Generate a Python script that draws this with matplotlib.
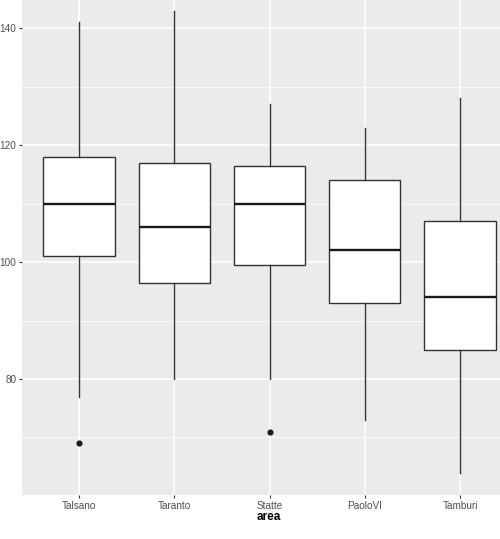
import matplotlib
matplotlib.use('Agg')
import matplotlib.pyplot as plt

# five-number summaries
areas = ['Talsano', 'Taranto', 'Statte', 'PaoloVI', 'Tamburi']
whisker_low = [77, 80, 80, 73, 64]
q1 = [101, 96.5, 99.5, 93, 85]
median = [110, 106, 110, 102, 94]
q3 = [118, 117, 116.5, 114, 107]
whisker_high = [141, 143, 127, 123, 128]
outliers = [[69], [], [71], [], []]

plt.rcParams['font.family'] = ['Liberation Sans', 'DejaVu Sans']

fig = plt.figure(figsize=(5.0, 5.39), dpi=100)
ax = fig.add_axes([0.044, 0.0816, 0.956, 0.9184])
ax.set_facecolor('#EBEBEB')

stats = []
for i, name in enumerate(areas):
    stats.append({
        'label': name,
        'whislo': whisker_low[i],
        'q1': q1[i],
        'med': median[i],
        'q3': q3[i],
        'whishi': whisker_high[i],
        'fliers': outliers[i],
    })

positions = list(range(1, len(areas) + 1))
ax.bxp(stats, positions=positions, widths=0.75, patch_artist=True,
       showcaps=False,
       boxprops=dict(facecolor='white', edgecolor='#333333', linewidth=1.0),
       whiskerprops=dict(color='#333333', linewidth=1.0),
       medianprops=dict(color='#1a1a1a', linewidth=1.7),
       flierprops=dict(marker='o', markerfacecolor='#1a1a1a', markeredgecolor='#1a1a1a',
                       markersize=3.4, linestyle='none'),
       zorder=3)

ax.set_xlim(0.4, 5.42)
ax.set_ylim(60.15, 144.84)

# grid like ggplot
ax.set_yticks([80, 100, 120, 140])
ax.set_yticks([70, 90, 110, 130], minor=True)
ax.grid(True, which='major', color='white', linewidth=1.1, zorder=0)
ax.grid(True, which='minor', axis='y', color='white', linewidth=0.55, zorder=0)
ax.set_axisbelow(True)

ax.set_xticks(positions)
ax.set_xticklabels(areas)
ax.tick_params(axis='both', which='major', colors='#333333', labelcolor='#4D4D4D',
               labelsize=7.2, length=2.5, width=0.8, pad=1.5)
ax.tick_params(which='minor', length=0)

for s in ax.spines.values():
    s.set_visible(False)

ax.set_xlabel('area', fontsize=8.5, fontweight='bold', color='black')
ax.xaxis.set_label_coords(0.517, -0.032)
ax.set_ylabel('')

fig.savefig('out.png', dpi=100)
